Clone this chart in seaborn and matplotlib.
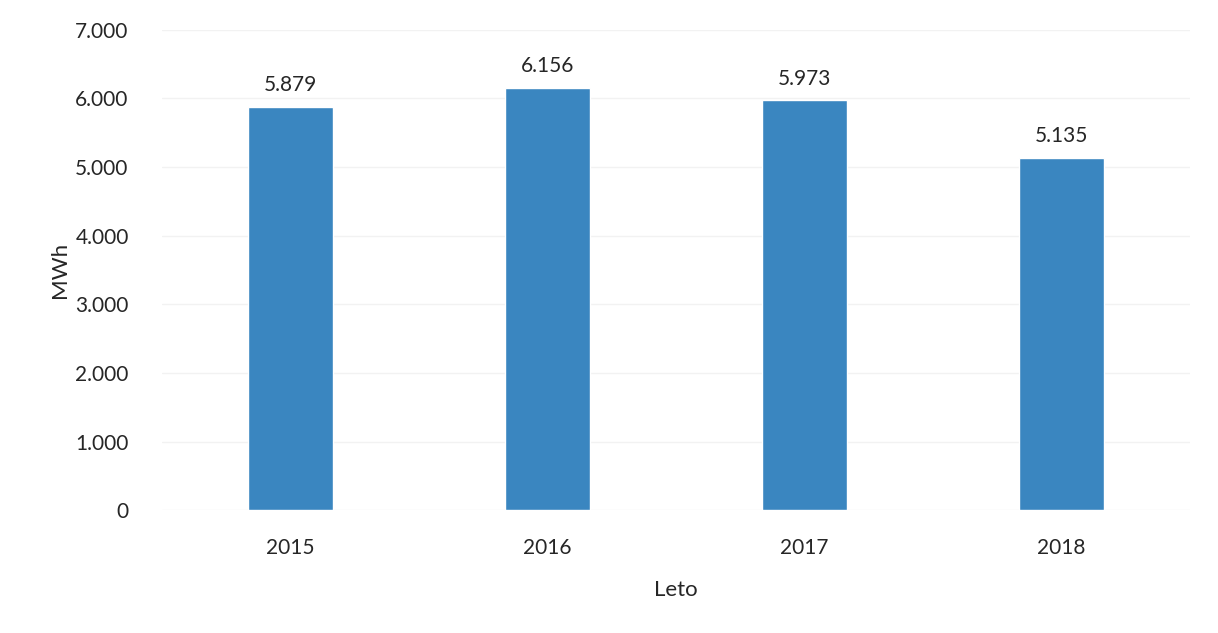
import pandas as pd
import matplotlib.pyplot as plt
import seaborn as sns

# --- Podatki ---
leta = ["2015", "2016", "2017", "2018"]
poraba = [5879, 6156, 5973, 5135]
df = pd.DataFrame({"Leto": leta, "MWh": poraba})

sns.set_theme(style="whitegrid")
plt.rcParams["font.family"] = ["Lato", "DejaVu Sans"]

fig = plt.figure(figsize=(12.18, 6.33), dpi=100)
ax = fig.add_axes([0.133, 0.194, 0.844, 0.759])

sns.barplot(data=df, x="Leto", y="MWh", color="#3A86C0", width=0.33,
            saturation=1, ax=ax)

# --- Oznake vrednosti ---
for i, v in enumerate(poraba):
    ax.text(i, v + 170, f"{v:,}".replace(",", "."), ha="center", va="bottom",
            fontsize=15, color="#262626")

ax.set_ylim(0, 7000)
ax.set_xlim(-0.5, 3.5)
ax.set_yticks(range(0, 7001, 1000))
ax.set_yticklabels([f"{t:,}".replace(",", ".") for t in range(0, 7001, 1000)])
ax.tick_params(axis="both", labelsize=15, colors="#262626", length=0)
ax.tick_params(axis="y", pad=24)
ax.tick_params(axis="x", pad=20)
ax.set_xlabel("Leto", fontsize=16, color="#262626", labelpad=16)
ax.set_ylabel("MWh", fontsize=16, color="#262626", labelpad=4)
ax.grid(axis="y", color="#f2f2f2", linewidth=1)
ax.grid(axis="x", visible=False)
for s in ax.spines.values():
    s.set_visible(False)

plt.savefig("out.png", dpi=100)
